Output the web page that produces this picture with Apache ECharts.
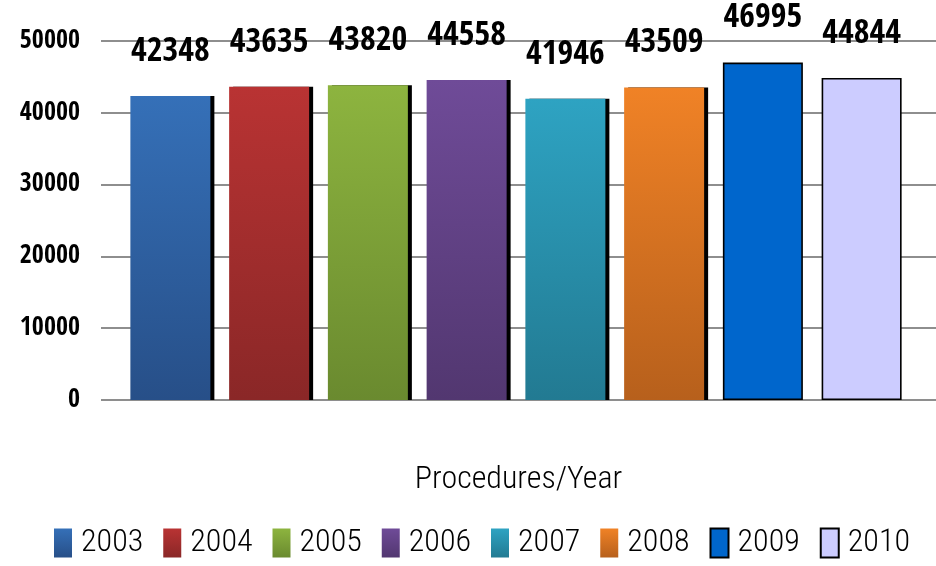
<!DOCTYPE html>
<html>
<head>
<meta charset="utf-8">
<script src="https://cdn.jsdelivr.net/npm/echarts@6/dist/echarts.min.js"></script>
<style>
  html, body { margin: 0; padding: 0; background: #ffffff; }
  #chart { width: 936px; height: 566px; }
</style>
</head>
<body>
<div id="chart"></div>
<script>
// Procedures performed per year
const years = ['2003', '2004', '2005', '2006', '2007', '2008', '2009', '2010'];
const procedures = [42348, 43635, 43820, 44558, 41946, 43509, 46995, 44844];
const yTicks = [0, 10000, 20000, 30000, 40000, 50000];
const axisTitle = 'Procedures/Year';

const BOLD_FONT = '"Open Sans Condensed", "Roboto Condensed", sans-serif';
const TEXT_FONT = '"Roboto Condensed", "Open Sans Condensed", sans-serif';

// top / bottom colours of each bar's gradient; flat fills get a black outline
const fills = [
  { top: '#3570B8', bottom: '#274F88', shadow: true },
  { top: '#B93333', bottom: '#8A2727', shadow: true },
  { top: '#8DB43F', bottom: '#6A8A2F', shadow: true },
  { top: '#6F4B98', bottom: '#523770', shadow: true },
  { top: '#2EA3C2', bottom: '#227A92', shadow: true },
  { top: '#F08226', bottom: '#B7601C', shadow: true },
  { top: '#0066CC', bottom: '#0066CC', shadow: false },
  { top: '#CCCCFF', bottom: '#CCCCFF', shadow: false }
];

const yMin = yTicks[0];
const yMax = yTicks[yTicks.length - 1];
const yStep = yTicks[1] - yTicks[0];

const series = years.map((year, i) => {
  const f = fills[i];
  const style = f.shadow
    ? {
        color: new echarts.graphic.LinearGradient(0, 0, 0, 1, [
          { offset: 0, color: f.top },
          { offset: 1, color: f.bottom }
        ]),
        shadowColor: '#000000',
        shadowBlur: 0,
        shadowOffsetX: 4,
        shadowOffsetY: 0
      }
    : { color: f.top, borderColor: '#000000', borderWidth: 1.6 };
  return {
    name: year,
    type: 'bar',
    xAxisIndex: 1,
    yAxisIndex: 1,
    barWidth: 80,
    barGap: '-100%',
    data: years.map((_, j) => (j === i ? procedures[i] : null)),
    itemStyle: style,
    label: {
      show: true,
      position: 'top',
      distance: 27,
      fontFamily: BOLD_FONT,
      fontWeight: 'bold',
      fontSize: 34,
      color: '#000000'
    }
  };
});

const chart = echarts.init(document.getElementById('chart'), null, { renderer: 'canvas' });
chart.setOption({
  backgroundColor: '#ffffff',
  animation: false,
  grid: [
    { left: 101, right: 0, top: 41, bottom: 166 },
    { left: 121, right: 25, top: 41, bottom: 166 }
  ],
  xAxis: [
    {
      gridIndex: 0,
      type: 'category',
      data: years,
      axisLine: { show: false },
      axisTick: { show: false },
      axisLabel: { show: false },
      name: axisTitle,
      nameLocation: 'middle',
      nameGap: 64,
      nameTextStyle: { fontFamily: TEXT_FONT, fontWeight: 300, fontSize: 32, color: '#000000' }
    },
    {
      gridIndex: 1,
      type: 'category',
      data: years,
      axisLine: { show: false },
      axisTick: { show: false },
      axisLabel: { show: false }
    }
  ],
  yAxis: [
    {
      gridIndex: 0,
      type: 'value',
      min: yMin,
      max: yMax,
      interval: yStep,
      axisLine: { show: false },
      axisTick: { show: false },
      splitLine: { lineStyle: { color: '#8E8E8E', width: 2 } },
      axisLabel: {
        margin: 21,
        formatter: (v) => String(v),
        fontFamily: BOLD_FONT,
        fontWeight: 'bold',
        fontSize: 26,
        color: '#000000'
      }
    },
    {
      gridIndex: 1,
      type: 'value',
      min: yMin,
      max: yMax,
      interval: yStep,
      axisLine: { show: false },
      axisTick: { show: false },
      splitLine: { show: false },
      axisLabel: { show: false }
    }
  ],
  legend: {
    data: years,
    left: 54,
    top: 527,
    width: 880,
    padding: 0,
    itemWidth: 18,
    itemHeight: 29,
    itemGap: 20,
    icon: 'rect',
    textStyle: {
      fontFamily: TEXT_FONT,
      fontWeight: 300,
      fontSize: 32,
      color: '#000000',
      padding: [0, 0, 0, 4]
    }
  },
  series: series
});
</script>
</body>
</html>
